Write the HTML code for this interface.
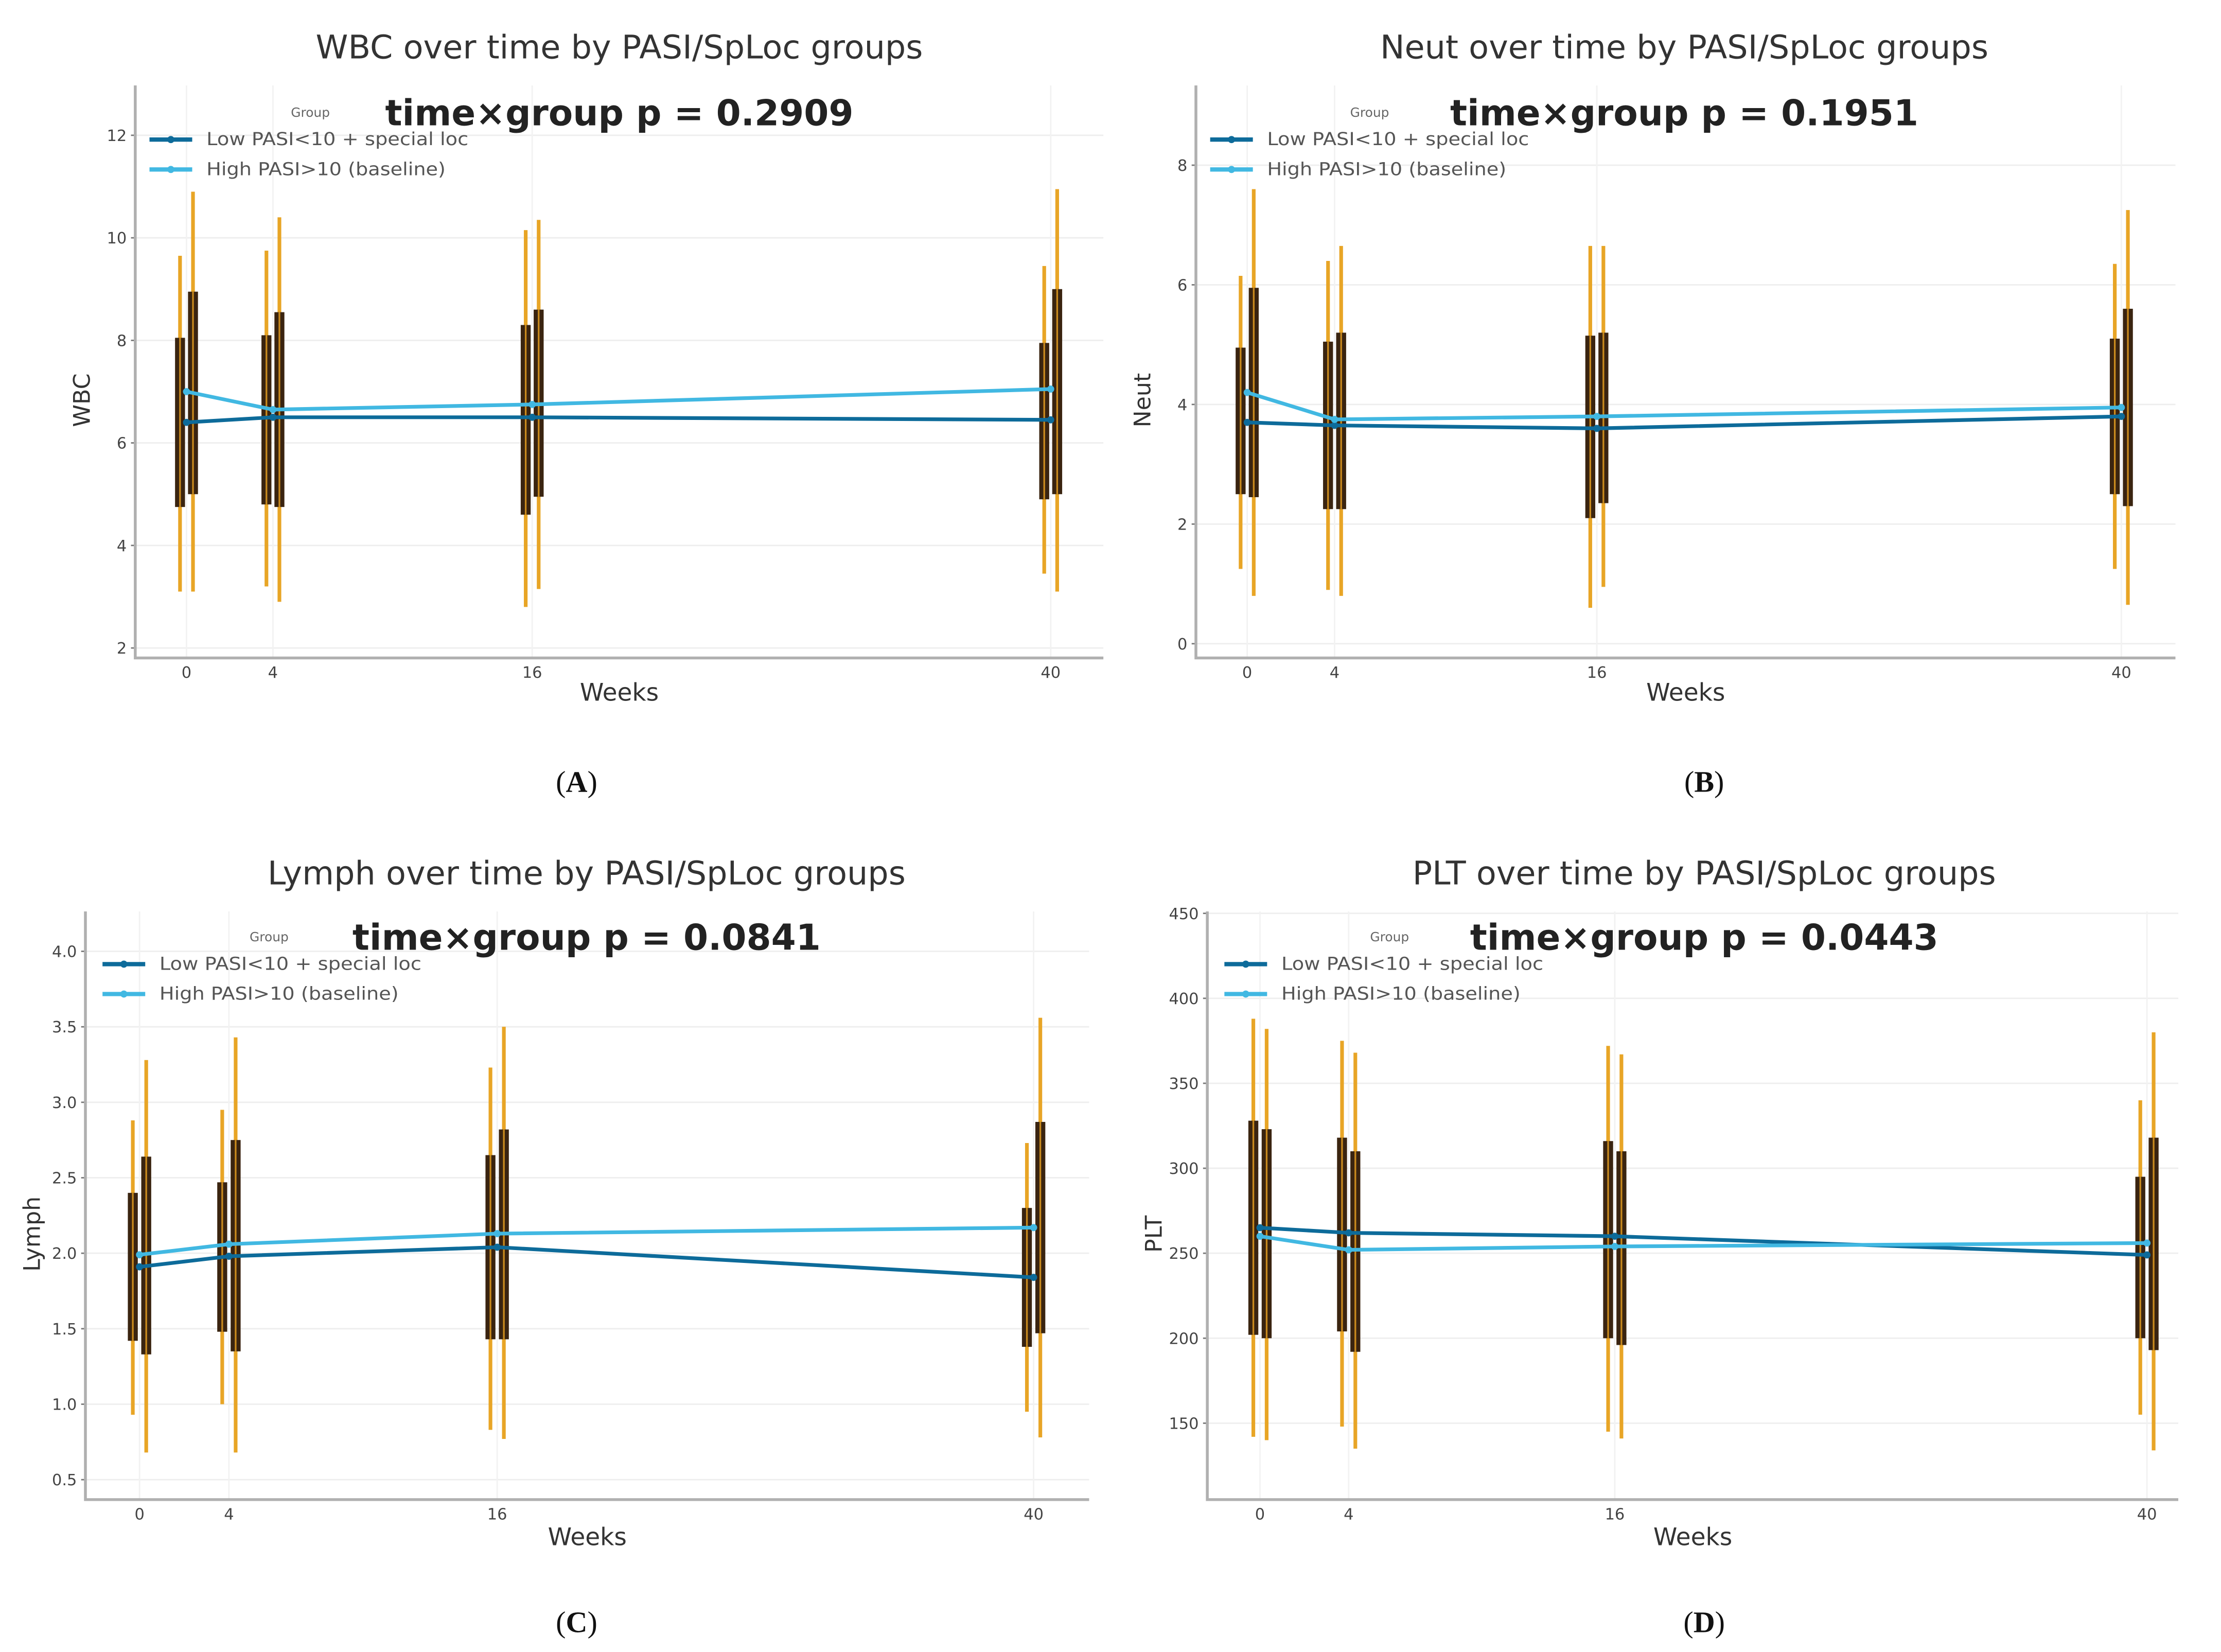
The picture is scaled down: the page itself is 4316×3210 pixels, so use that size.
<!DOCTYPE html>
<html><head><meta charset="utf-8">
<style>
html,body{margin:0;padding:0;background:#fff;}
svg{display:block;}
text{font-family:"DejaVu Sans","Liberation Sans",sans-serif;}
.cap{font-family:"Liberation Serif",serif;}
</style></head>
<body>
<svg id="fig" width="4316" height="3210" viewBox="0 0 1560 1160" preserveAspectRatio="none" xmlns="http://www.w3.org/2000/svg"></svg>
<script>
// ---- data (weeks) ----
const weeks = [0, 4, 16, 40];
// Panel A: WBC
const wbcLowMean = [6.4, 6.5, 6.5, 6.45];
const wbcLowQ1 = [4.75, 4.8, 4.6, 4.9];
const wbcLowQ3 = [8.05, 8.1, 8.3, 7.95];
const wbcLowMin = [3.1, 3.2, 2.8, 3.45];
const wbcLowMax = [9.65, 9.75, 10.15, 9.45];
const wbcHighMean = [7.0, 6.65, 6.75, 7.05];
const wbcHighQ1 = [5.0, 4.75, 4.95, 5.0];
const wbcHighQ3 = [8.95, 8.55, 8.6, 9.0];
const wbcHighMin = [3.1, 2.9, 3.15, 3.1];
const wbcHighMax = [10.9, 10.4, 10.35, 10.95];
const wbcTicks = [2, 4, 6, 8, 10, 12];
// Panel B: Neut
const neutLowMean = [3.7, 3.65, 3.6, 3.8];
const neutLowQ1 = [2.5, 2.25, 2.1, 2.5];
const neutLowQ3 = [4.95, 5.05, 5.15, 5.1];
const neutLowMin = [1.25, 0.9, 0.6, 1.25];
const neutLowMax = [6.15, 6.4, 6.65, 6.35];
const neutHighMean = [4.2, 3.75, 3.8, 3.95];
const neutHighQ1 = [2.45, 2.25, 2.35, 2.3];
const neutHighQ3 = [5.95, 5.2, 5.2, 5.6];
const neutHighMin = [0.8, 0.8, 0.95, 0.65];
const neutHighMax = [7.6, 6.65, 6.65, 7.25];
const neutTicks = [0, 2, 4, 6, 8];
// Panel C: Lymph
const lymLowMean = [1.91, 1.98, 2.04, 1.84];
const lymLowQ1 = [1.42, 1.48, 1.43, 1.38];
const lymLowQ3 = [2.4, 2.47, 2.65, 2.3];
const lymLowMin = [0.93, 1.0, 0.83, 0.95];
const lymLowMax = [2.88, 2.95, 3.23, 2.73];
const lymHighMean = [1.99, 2.06, 2.13, 2.17];
const lymHighQ1 = [1.33, 1.35, 1.43, 1.47];
const lymHighQ3 = [2.64, 2.75, 2.82, 2.87];
const lymHighMin = [0.68, 0.68, 0.77, 0.78];
const lymHighMax = [3.28, 3.43, 3.5, 3.56];
const lymTicks = [0.5, 1.0, 1.5, 2.0, 2.5, 3.0, 3.5, 4.0];
// Panel D: PLT
const pltLowMean = [265, 262, 260, 249];
const pltLowQ1 = [202, 204, 200, 200];
const pltLowQ3 = [328, 318, 316, 295];
const pltLowMin = [142, 148, 145, 155];
const pltLowMax = [388, 375, 372, 340];
const pltHighMean = [260, 252, 254, 256];
const pltHighQ1 = [200, 192, 196, 193];
const pltHighQ3 = [323, 310, 310, 318];
const pltHighMin = [140, 135, 141, 134];
const pltHighMax = [382, 368, 367, 380];
const pltTicks = [150, 200, 250, 300, 350, 400, 450];

const NS = "http://www.w3.org/2000/svg";
const fig = document.getElementById('fig');
function mk(tag, attrs, parent, txt) {
  const e = document.createElementNS(NS, tag);
  for (const k in attrs) e.setAttribute(k, attrs[k]);
  if (txt !== undefined) e.textContent = txt;
  (parent || fig).appendChild(e);
  return e;
}

const panels = [
  {key:'wbc', title:'WBC over time by PASI/SpLoc groups', ylab:'WBC', p:'0.2909', cap:'(A)',
   box:[95,60,775,462], yA:[2,455], yB:[12,95], xA:131, xB:738, ticks:wbcTicks, fmt:v=>String(v),
   low:[wbcLowMean,wbcLowQ1,wbcLowQ3,wbcLowMin,wbcLowMax], high:[wbcHighMean,wbcHighQ1,wbcHighQ3,wbcHighMin,wbcHighMax],
   legX:105, grpX:218, pX:435, titleX:435, capX:405, capY:550, xlabY:492, pY:80},
  {key:'neut', title:'Neut over time by PASI/SpLoc groups', ylab:'Neut', p:'0.1951', cap:'(B)',
   box:[840,60,1528,462], yA:[0,452], yB:[8,116], xA:876, xB:1490, ticks:neutTicks, fmt:v=>String(v),
   low:[neutLowMean,neutLowQ1,neutLowQ3,neutLowMin,neutLowMax], high:[neutHighMean,neutHighQ1,neutHighQ3,neutHighMin,neutHighMax],
   legX:850, grpX:962, pX:1183, titleX:1183, capX:1197, capY:550, xlabY:492, pY:80},
  {key:'lymph', title:'Lymph over time by PASI/SpLoc groups', ylab:'Lymph', p:'0.0841', cap:'(C)',
   box:[60,640,765,1053], yA:[2,880], yB:[4,668], xA:98, xB:726, ticks:lymTicks, fmt:v=>v.toFixed(1),
   low:[lymLowMean,lymLowQ1,lymLowQ3,lymLowMin,lymLowMax], high:[lymHighMean,lymHighQ1,lymHighQ3,lymHighMin,lymHighMax],
   legX:72, grpX:189, pX:412, titleX:412, capX:405, capY:1140, xlabY:1085, pY:659},
  {key:'plt', title:'PLT over time by PASI/SpLoc groups', ylab:'PLT', p:'0.0443', cap:'(D)',
   box:[848,640,1530,1053], yA:[250,880], yB:[400,701], xA:885, xB:1508, ticks:pltTicks, fmt:v=>String(v),
   low:[pltLowMean,pltLowQ1,pltLowQ3,pltLowMin,pltLowMax], high:[pltHighMean,pltHighQ1,pltHighQ3,pltHighMin,pltHighMax],
   legX:860, grpX:976, pX:1197, titleX:1197, capX:1197, capY:1140, xlabY:1085, pY:659}
];

panels.forEach(P => {
  const g = mk('g', {});
  
  
  const [x0, y0, x1, y1] = P.box;
  const ys = v => P.yA[1] + (v - P.yA[0]) * (P.yB[1] - P.yA[1]) / (P.yB[0] - P.yA[0]);
  const xs = w => P.xA + w * (P.xB - P.xA) / 40;
  const off = 0.3;
  P.ticks.forEach(t => {
    const gl = mk('line', {x1:x0, x2:x1, y1:ys(t), y2:ys(t), stroke:'#eeeeee', 'stroke-width':1}, g);
    
    
    const tl = mk('text', {x:x0-6, y:ys(t)+4, 'font-size':11, 'text-anchor':'end', fill:'#444'}, g, P.fmt(t));
    
    
    mk('line', {x1:x0-3, x2:x0, y1:ys(t), y2:ys(t), stroke:'#777', 'stroke-width':1}, g);
  });
  weeks.forEach(w => {
    const gl = mk('line', {x1:xs(w), x2:xs(w), y1:y0, y2:y1, stroke:'#f2f2f2', 'stroke-width':1}, g);
    
    
    const tl = mk('text', {x:xs(w), y:y1+14, 'font-size':11, 'text-anchor':'middle', fill:'#444'}, g, String(w));
    
    
  });
  const sp = mk('path', {d:`M${x0},${y0} L${x0},${y1} L${x1},${y1}`, fill:'none', stroke:'#b0b0b0', 'stroke-width':2}, g);
  
  
  [['low', P.low, -off], ['high', P.high, off]].forEach(([nm, S, o]) => {
    weeks.forEach((w, i) => {
      const cx = xs(w + o);
      const wk = mk('line', {x1:cx, x2:cx, y1:ys(S[4][i]), y2:ys(S[3][i]), stroke:'#e8a526', 'stroke-width':2.6}, g);
      
      
      const b = mk('rect', {x:cx-3.5, y:ys(S[2][i]), width:7, height:ys(S[1][i]) - ys(S[2][i]), fill:'#3a2410'}, g);
      
      
      mk('line', {x1:cx, x2:cx, y1:ys(S[2][i]), y2:ys(S[1][i]), stroke:'#c98a1e', 'stroke-width':1.2}, g);
    });
  });
  [['low', P.low, '#0d6b9a'], ['high', P.high, '#41b8e2']].forEach(([nm, S, c]) => {
    const pts = weeks.map((w, i) => xs(w) + ',' + ys(S[0][i])).join(' ');
    const pl = mk('polyline', {points:pts, fill:'none', stroke:c, 'stroke-width':2.6}, g);
    
    
    weeks.forEach((w, i) => {
      const m = mk('circle', {cx:xs(w), cy:ys(S[0][i]), r:2.5, fill:c}, g);
      
      
    });
  });
  const ti = mk('text', {x:P.titleX, y:y0-19, 'font-size':23, 'text-anchor':'middle', fill:'#333'}, g, P.title);
  
  
  const xl = mk('text', {x:(x0+x1)/2, y:P.xlabY, 'font-size':17, 'text-anchor':'middle', fill:'#333'}, g, 'Weeks');
  
  
  const ylx = x0 - 32, yly = (y0 + y1) / 2 + 20;
  const yl = mk('text', {x:ylx, y:yly, 'font-size':16, 'text-anchor':'middle', fill:'#333', transform:`rotate(-90 ${ylx} ${yly})`}, g, P.ylab);
  
  
  const pt = mk('text', {x:P.pX, y:P.pY+8, 'font-size':25, 'font-weight':'bold', 'text-anchor':'middle', fill:'#222'}, g, 'time\u00d7group p = ' + P.p);
  
  
  const lg = mk('g', {}, g);
  
  
  mk('text', {x:P.grpX, y:P.pY+2, 'font-size':9, 'text-anchor':'middle', fill:'#666'}, lg, 'Group');
  [['Low PASI<10 + special loc', '#0d6b9a', 18], ['High PASI>10 (baseline)', '#41b8e2', 39]].forEach(([lab, c, dy]) => {
    const e = mk('g', {}, lg);
    
    
    mk('line', {x1:P.legX, x2:P.legX+30, y1:P.pY+dy, y2:P.pY+dy, stroke:c, 'stroke-width':3}, e);
    mk('circle', {cx:P.legX+15, cy:P.pY+dy, r:2.5, fill:c}, e);
    mk('text', {x:P.legX+40, y:P.pY+dy+4, 'font-size':12.5, fill:'#555', textLength:184, lengthAdjust:'spacingAndGlyphs'}, e, lab);
  });
  // fix second legend label length
  const labs = lg.querySelectorAll('text');
  labs[2].setAttribute('textLength', 168);
  const cp = mk('text', {x:P.capX, y:P.capY+6, 'font-size':21, 'text-anchor':'middle', fill:'#111', class:'cap'}, g);
  
  
  mk('tspan', {}, cp, '(');
  mk('tspan', {'font-weight':'bold'}, cp, P.cap.slice(1, 2));
  mk('tspan', {}, cp, ')');
});
</script>
</body></html>
